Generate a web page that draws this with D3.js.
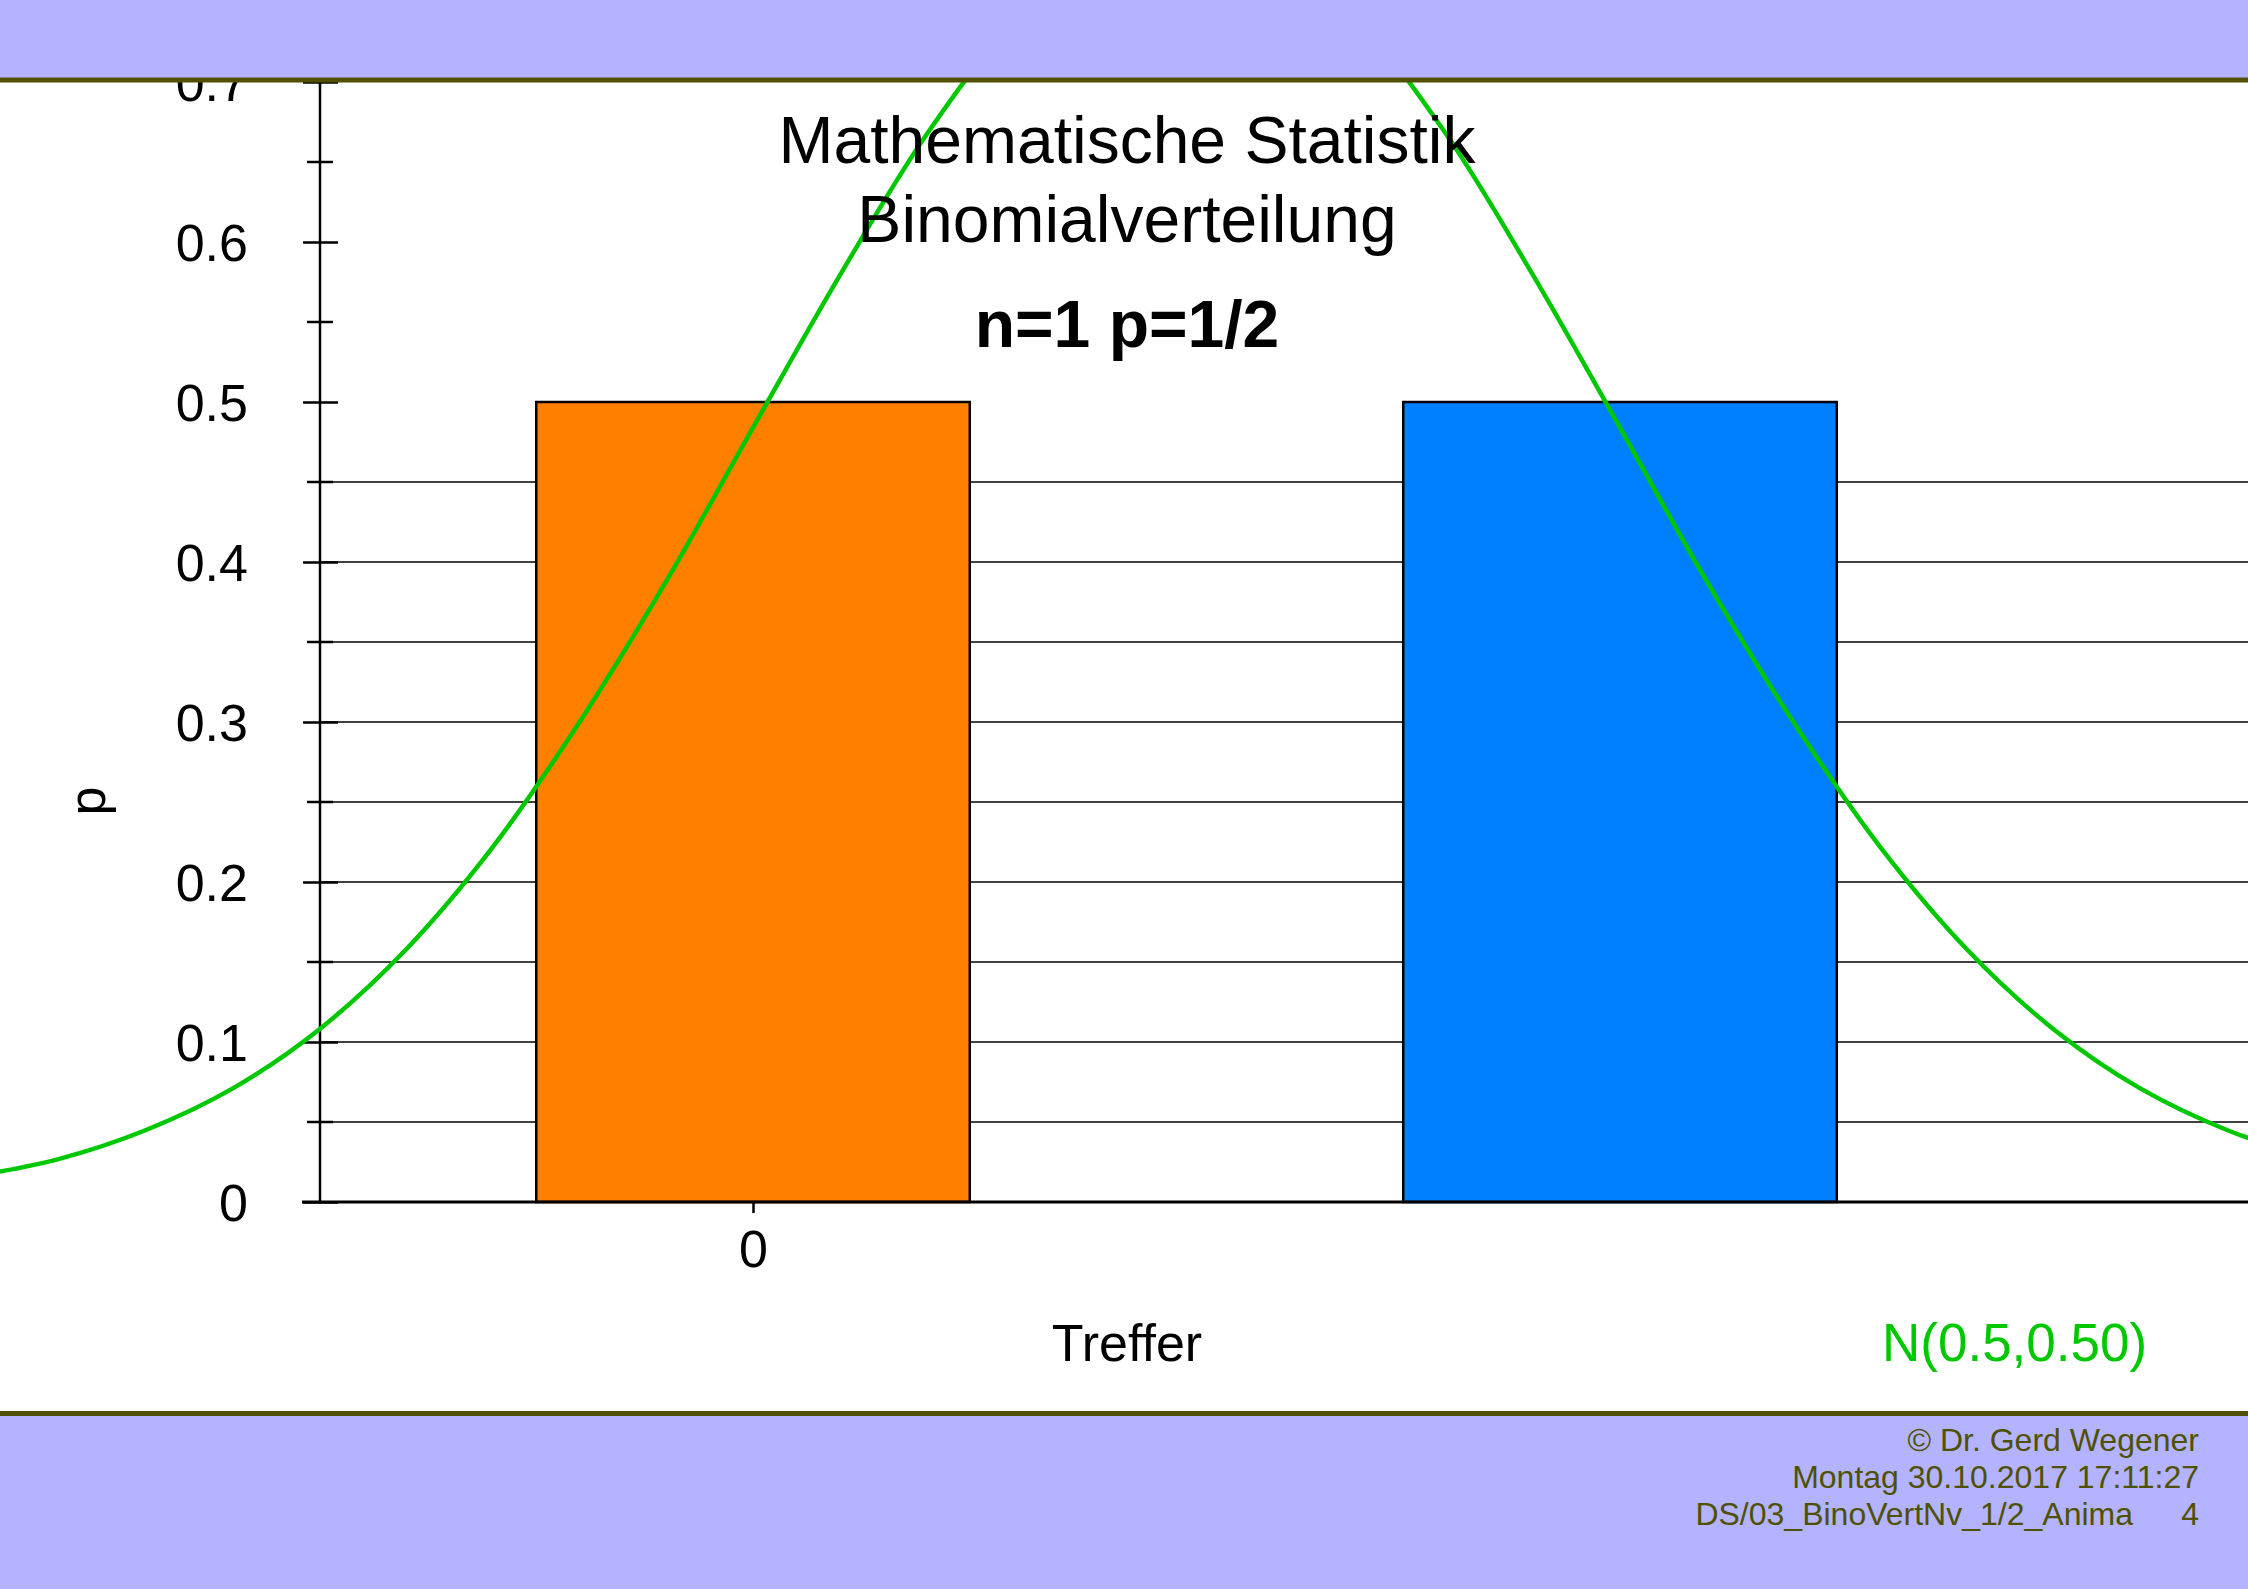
<!DOCTYPE html>
<html>
<head>
<meta charset="utf-8">
<script src="https://cdn.jsdelivr.net/npm/d3@7"></script>
<style>
  body { margin: 0; background: #fff; }
  text { font-family: "Liberation Sans", Arial, sans-serif; }
</style>
</head>
<body>
<script>
// Binomialverteilung n=1, p=1/2 with normal curve N(0.5,0.50)
const categories = [0, 1];
const probs = [0.5, 0.5];
const barColors = ["#ff8000", "#0080ff"];
const xTickValues = [0];
const xTickLabels = ["0"];
const yTicks = [0, 0.1, 0.2, 0.3, 0.4, 0.5, 0.6, 0.7];
const yTickLabels = ["0", "0.1", "0.2", "0.3", "0.4", "0.5", "0.6", "0.7"];
const yMinor = [0.05, 0.15, 0.25, 0.35, 0.45, 0.55, 0.65];
const gridVals = [0.05, 0.1, 0.15, 0.2, 0.25, 0.3, 0.35, 0.4, 0.45];
// green curve
const curveX = [-0.9, -0.8, -0.7, -0.6, -0.5, -0.4, -0.3, -0.2, -0.1, 0, 0.1, 0.2, 0.3, 0.4, 0.5,
                0.6, 0.7, 0.8, 0.9, 1.0, 1.1, 1.2, 1.3, 1.4, 1.5, 1.6, 1.7, 1.8];
const curveY = [0.016, 0.027, 0.045, 0.071, 0.108, 0.158, 0.222, 0.300, 0.388, 0.484, 0.579, 0.667, 0.737, 0.782, 0.798,
                0.782, 0.737, 0.667, 0.579, 0.484, 0.388, 0.300, 0.222, 0.158, 0.108, 0.071, 0.045, 0.027];
const titleLines = ["Mathematische Statistik", "Binomialverteilung"];
const subTitle = "n=1 p=1/2";
const xLabel = "Treffer", yLabel = "p";
const legendText = "N(0.5,0.50)";
const footer = ["\u00A9 Dr. Gerd Wegener", "Montag 30.10.2017 17:11:27", "DS/03_BinoVertNv_1/2_Anima"];
const pageNo = "4";

const W = 2248, H = 1589,
  band = "#b3b3ff", olive = "#505000", green = "#00c800",
  axisX = 320, baseY = 1202, cx = 1127;

const svg = d3.select("body").append("svg")
  .attr("width", W).attr("height", H);

const x = d3.scaleLinear().domain([0, 1]).range([753, 1620]);
const y = d3.scaleLinear().domain([0, 0.7]).range([baseY, 82]);

// grid lines
svg.append("g").selectAll("line").data(gridVals).join("line")
  .attr("x1", axisX).attr("x2", W)
  .attr("y1", d => y(d)).attr("y2", d => y(d))
  .attr("stroke", "#000").attr("stroke-width", 1.6);

// bars
svg.append("g").selectAll("rect").data(categories).join("rect")
  .attr("x", d => x(d - 0.25))
  .attr("width", d => x(d + 0.25) - x(d - 0.25))
  .attr("y", (d, i) => y(probs[i]))
  .attr("height", (d, i) => baseY - y(probs[i]))
  .attr("fill", (d, i) => barColors[i])
  .attr("stroke", "#000").attr("stroke-width", 2.5);

// y axis
const yAxis = svg.append("g").attr("transform", `translate(${axisX},0)`)
  .call(d3.axisLeft(y).tickValues(yTicks).tickSize(17).tickPadding(55)
    .tickFormat((d, i) => yTickLabels[i]));
yAxis.select(".domain").remove();
yAxis.selectAll(".tick line").attr("x1", 18).attr("stroke-width", 2.5);
yAxis.selectAll(".tick text").attr("font-size", 52).attr("dy", "0.36em")
  .attr("font-family", "Liberation Sans, Arial, sans-serif").attr("fill", "#000");
yAxis.append("line").attr("y1", y(0)).attr("y2", y(0.7))
  .attr("stroke", "#000").attr("stroke-width", 2.5);
yAxis.append("g").selectAll("line").data(yMinor).join("line")
  .attr("x1", -13).attr("x2", 13)
  .attr("y1", d => y(d)).attr("y2", d => y(d))
  .attr("stroke", "#000").attr("stroke-width", 2.5);

// x axis
const xAxis = svg.append("g").attr("transform", `translate(0,${baseY})`)
  .call(d3.axisBottom(x).tickValues(xTickValues).tickSize(11).tickPadding(17)
    .tickFormat((d, i) => xTickLabels[i]));
xAxis.select(".domain").remove();
xAxis.selectAll(".tick line").attr("stroke-width", 2.5);
xAxis.selectAll(".tick text").attr("font-size", 52)
  .attr("font-family", "Liberation Sans, Arial, sans-serif").attr("fill", "#000");
svg.append("line").attr("x1", 302).attr("x2", W)
  .attr("y1", baseY).attr("y2", baseY)
  .attr("stroke", "#000").attr("stroke-width", 3);

// normal curve
const pts = curveX.map((v, i) => [v, curveY[i]]);
svg.append("path").datum(pts)
  .attr("d", d3.line().x(d => x(d[0])).y(d => y(d[1])).curve(d3.curveCatmullRom))
  .attr("fill", "none").attr("stroke", green).attr("stroke-width", 4.5);

// titles
svg.append("text").attr("x", cx).attr("y", 163).attr("text-anchor", "middle")
  .attr("font-size", 66).text(titleLines[0]);
svg.append("text").attr("x", cx).attr("y", 242).attr("text-anchor", "middle")
  .attr("font-size", 66).text(titleLines[1]);
svg.append("text").attr("x", cx).attr("y", 347).attr("text-anchor", "middle")
  .attr("font-size", 66).attr("font-weight", "bold").text(subTitle);

// axis labels
svg.append("text").attr("x", cx).attr("y", 1361).attr("text-anchor", "middle")
  .attr("font-size", 52).text(xLabel);
svg.append("text").attr("transform", "translate(105,801) rotate(-90)")
  .attr("text-anchor", "middle").attr("font-size", 52).text(yLabel);
svg.append("text").attr("x", 1882).attr("y", 1361)
  .attr("font-size", 53).attr("fill", green).text(legendText);

// header / footer bands
svg.append("rect").attr("x", 0).attr("y", 0).attr("width", W).attr("height", 78).attr("fill", band);
svg.append("line").attr("x1", 0).attr("x2", W).attr("y1", 80).attr("y2", 80)
  .attr("stroke", olive).attr("stroke-width", 5);
svg.append("rect").attr("x", 0).attr("y", 1415).attr("width", W).attr("height", H - 1415).attr("fill", band);
svg.append("line").attr("x1", 0).attr("x2", W).attr("y1", 1413.5).attr("y2", 1413.5)
  .attr("stroke", olive).attr("stroke-width", 5);

const foot = svg.append("g").attr("fill", olive).attr("font-size", 32);
foot.selectAll("text").data(footer).join("text")
  .attr("x", (d, i) => i === 2 ? 2133 : 2199)
  .attr("y", (d, i) => 1451 + i * 37)
  .attr("text-anchor", "end").text(d => d);
foot.append("text").attr("x", 2199).attr("y", 1525).attr("text-anchor", "end").text(pageNo);
</script>
</body>
</html>
